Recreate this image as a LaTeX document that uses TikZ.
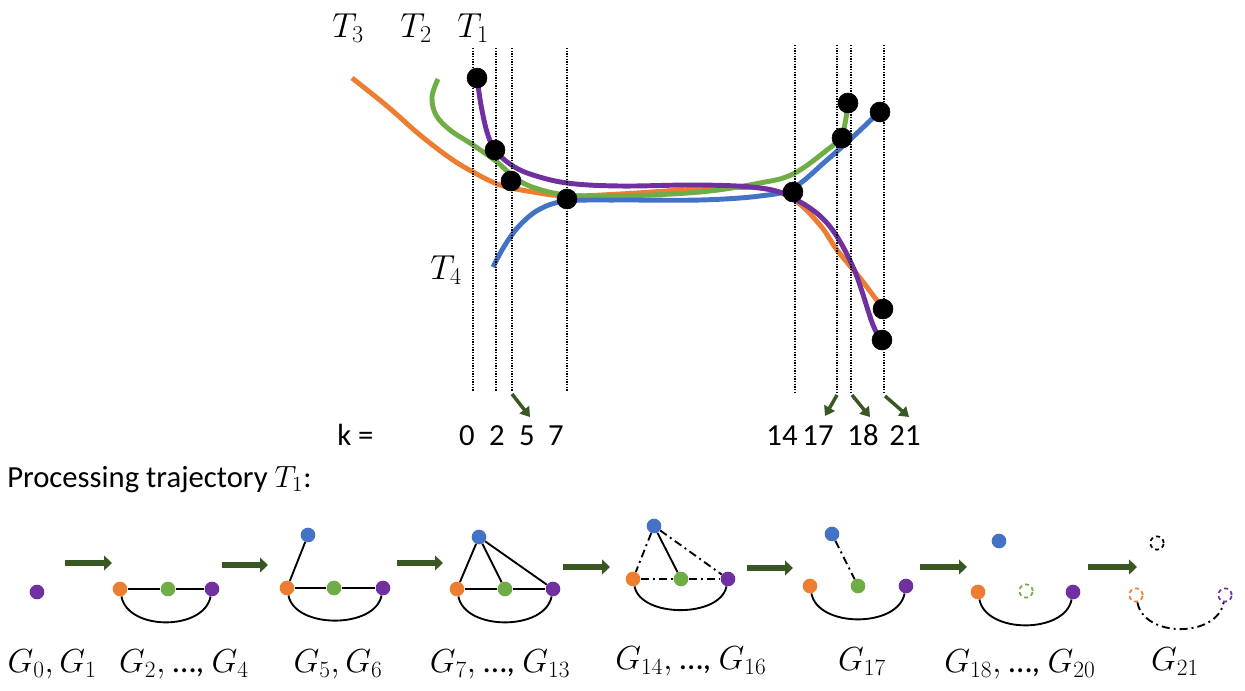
\RequirePackage{fix-cm}
\documentclass[tikz,border=0pt]{standalone}
\usepackage{fontspec}
\setmainfont{Carlito}
\usetikzlibrary{arrows.meta}
\definecolor{corange}{RGB}{237,125,49}
\definecolor{cgreen}{RGB}{112,173,71}
\definecolor{cblue}{RGB}{68,114,196}
\definecolor{cpurple}{RGB}{112,48,160}
\definecolor{darrow}{RGB}{56,87,35}
\begin{document}
\begin{tikzpicture}[x=0.75pt,y=-0.75pt,
  traj/.style={line width=3.7pt},
  vline/.style={line width=1.2pt, dash pattern=on 1pt off 1pt},
  evdot/.style={circle, fill=black, draw=black, minimum size=15pt, inner sep=0pt},
  mlbl/.style={font=\fontsize{26}{30}\selectfont, anchor=base west, inner sep=0pt},
  glbl/.style={font=\fontsize{25}{30}\selectfont, anchor=base, inner sep=0pt},
  txt/.style={font=\fontsize{23}{28}\selectfont, inner sep=0pt, anchor=base},
  karrow/.style={darrow, line width=2.6pt, -{Triangle[length=7pt,width=9pt]}},
  garrow/.style={darrow, line width=5pt, -{Triangle[length=6pt,width=11pt]}},
  vtx/.style={circle, minimum size=11pt, inner sep=0pt},
  vo/.style={vtx, fill=corange},
  vg/.style={vtx, fill=cgreen},
  vb/.style={vtx, fill=cblue},
  vp/.style={vtx, fill=cpurple},
  ghost/.style={circle, minimum size=10pt, inner sep=0pt, draw, line width=1.3pt, dash pattern=on 3pt off 2.5pt},
  gedge/.style={line width=1.4pt},
  gdd/.style={line width=1.4pt, dash pattern=on 6pt off 3pt on 1.5pt off 3pt}
]
\useasboundingbox (0,0) rectangle (1245,690);

% trajectories
\draw[traj, corange] plot[smooth, tension=0.6] coordinates {(352,78) (387,106) (420,135) (450,158) (473,172) (500,185) (533,192) (567,196) (620,194) (700,189) (760,188) (793,199) (820,225) (837,250) (860,278) (881,306)};
\draw[traj, cgreen] plot[smooth, tension=0.6] coordinates {(438,79) (432,97) (436,115) (450,130) (473,145) (497,162) (515,178) (535,188) (567,195) (620,196) (700,192) (760,183) (793,174) (827,150) (842,135) (848,103)};
\draw[traj, cblue] plot[smooth, tension=0.6] coordinates {(493,267) (505,245) (520,225) (540,209) (567,201) (620,200) (700,200) (760,196) (793,188) (827,160) (855,135) (879,112)};
\draw[traj, cpurple] plot[smooth, tension=0.6] coordinates {(477,78) (481,105) (487,132) (495,150) (510,164) (530,174) (567,183) (620,186) (700,185) (760,188) (793,198) (827,223) (853,267) (873,325) (882,340)};

% dotted time lines
\foreach \x/\t in {473/48, 496/48, 512/48, 567/48, 795/45, 837/45, 851/45, 884/45}
  \draw[vline] (\x,\t) -- (\x,392);

% event dots
\node[evdot] (d0) at (477,78) {};
\node[evdot] (d2) at (495,150) {};
\node[evdot] (d5) at (511,181) {};
\node[evdot] (d7) at (567,199) {};
\node[evdot] (d14) at (793,192) {};
\node[evdot] (d17) at (842,138) {};
\node[evdot] (d18) at (848,103) {};
\node[evdot] (d21a) at (880,112) {};
\node[evdot] (d21b) at (883,309) {};
\node[evdot] (d21c) at (882,340) {};

% trajectory labels
\node[mlbl] (T3) at (332,37) {$T_3$};
\node[mlbl] (T2) at (400,37) {$T_2$};
\node[mlbl] (T1) at (457,37) {$T_1$};
\node[mlbl] (T4) at (430,279) {$T_4$};

% k labels
\node[txt, anchor=base west] (klab) at (337,445) {k =};
\node[txt] (k0) at (467,445) {0};
\node[txt] (k2) at (497,445) {2};
\node[txt] (k5) at (527,445) {5};
\node[txt] (k7) at (556,445) {7};
\node[txt] (k14) at (782,445) {14};
\node[txt] (k17) at (818,445) {17};
\node[txt] (k18) at (863,445) {18};
\node[txt] (k21) at (905,445) {21};

\coordinate (s5) at (512,394); \coordinate (e5) at (530,417);
\coordinate (s17) at (837,395); \coordinate (e17) at (825,416);
\coordinate (s18) at (852,395); \coordinate (e18) at (870,417);
\coordinate (s21) at (885,396); \coordinate (e21) at (909,417);
\draw[karrow] (s5) -- (e5);
\draw[karrow] (s17) -- (e17);
\draw[karrow] (s18) -- (e18);
\draw[karrow] (s21) -- (e21);

\node[txt, anchor=base west] (proc) at (7,487) {Processing trajectory $T_1$:};

% graph sequence arrows
\foreach \i/\a/\b/\y in {1/65/112/563, 2/222/268/565, 3/397/443/563, 4/563/610/567, 5/747/793/568, 6/920/967/567, 7/1088/1137/567}{
  \coordinate (as\i) at (\a,\y);
  \coordinate (ae\i) at (\b,\y);
  \draw[garrow] (as\i) -- (ae\i);
}

% G0,G1
\node[vp] (p0) at (37,592) {};

% G2..G4
\node[vo] (o1) at (120,589) {};
\node[vg] (g1) at (168,589) {};
\node[vp] (p1) at (212,589) {};
\draw[gedge] (o1) -- (g1) -- (p1);
\draw[gedge] (o1) .. controls +(8,42) and +(-8,42) .. (p1);

% G5,G6
\node[vb] (b2) at (308,535) {};
\node[vo] (o2) at (287,588) {};
\node[vg] (g2) at (334,588) {};
\node[vp] (p2) at (383,588) {};
\draw[gedge] (o2) -- (g2) -- (p2);
\draw[gedge] (o2) -- (b2);
\draw[gedge] (o2) .. controls +(8,41) and +(-8,41) .. (p2);

% G7..G13
\node[vb] (b3) at (479,537) {};
\node[vo] (o3) at (457,589) {};
\node[vg] (g3) at (505,589) {};
\node[vp] (p3) at (553,589) {};
\draw[gedge] (o3) -- (g3) -- (p3);
\draw[gedge] (b3) -- (o3);
\draw[gedge] (b3) -- (g3);
\draw[gedge] (b3) -- (p3);
\draw[gedge] (o3) .. controls +(8,42) and +(-8,42) .. (p3);

% G14..G16
\node[vb] (b4) at (654,526) {};
\node[vo] (o4) at (633,579) {};
\node[vg] (g4) at (681,579) {};
\node[vp] (p4) at (728,579) {};
\draw[gdd] (o4) -- (g4);
\draw[gdd] (g4) -- (p4);
\draw[gdd] (b4) -- (o4);
\draw[gdd] (b4) -- (p4);
\draw[gedge] (b4) -- (g4);
\draw[gedge] (o4) .. controls +(8,39) and +(-8,39) .. (p4);

% G17
\node[vb] (b5) at (832,534) {};
\node[vo] (o5) at (810,586) {};
\node[vg] (g5) at (858,586) {};
\node[vp] (p5) at (906,586) {};
\draw[gdd] (b5) -- (g5);
\draw[gedge] (o5) .. controls +(8,42) and +(-8,42) .. (p5);

% G18..G20
\node[vb] (b6) at (999,541) {};
\node[vo] (o6) at (978,592) {};
\node[ghost, cgreen] (g6) at (1026,591) {};
\node[vp] (p6) at (1073,592) {};
\draw[gedge] (o6) .. controls +(8,42) and +(-8,42) .. (p6);

% G21
\node[ghost, black] (b7) at (1157,543) {};
\node[ghost, corange] (o7) at (1136,595) {};
\node[ghost, cpurple] (p7) at (1225,595) {};
\draw[gdd] (o7) .. controls +(8,43) and +(-8,43) .. (p7);

% graph labels
\node[glbl] (L0) at (52,672) {$G_0, G_1$};
\node[glbl] (L2) at (184,672) {$G_2,$ …, $G_4$};
\node[glbl] (L5) at (338,672) {$G_5, G_6$};
\node[glbl] (L7) at (500,672) {$G_7,$ …, $G_{13}$};
\node[glbl] (L14) at (691,669) {$G_{14},$ …, $G_{16}$};
\node[glbl] (L17) at (862,670) {$G_{17}$};
\node[glbl] (L18) at (1020,672) {$G_{18},$ …, $G_{20}$};
\node[glbl] (L21) at (1175,670) {$G_{21}$};
\end{tikzpicture}
\end{document}
